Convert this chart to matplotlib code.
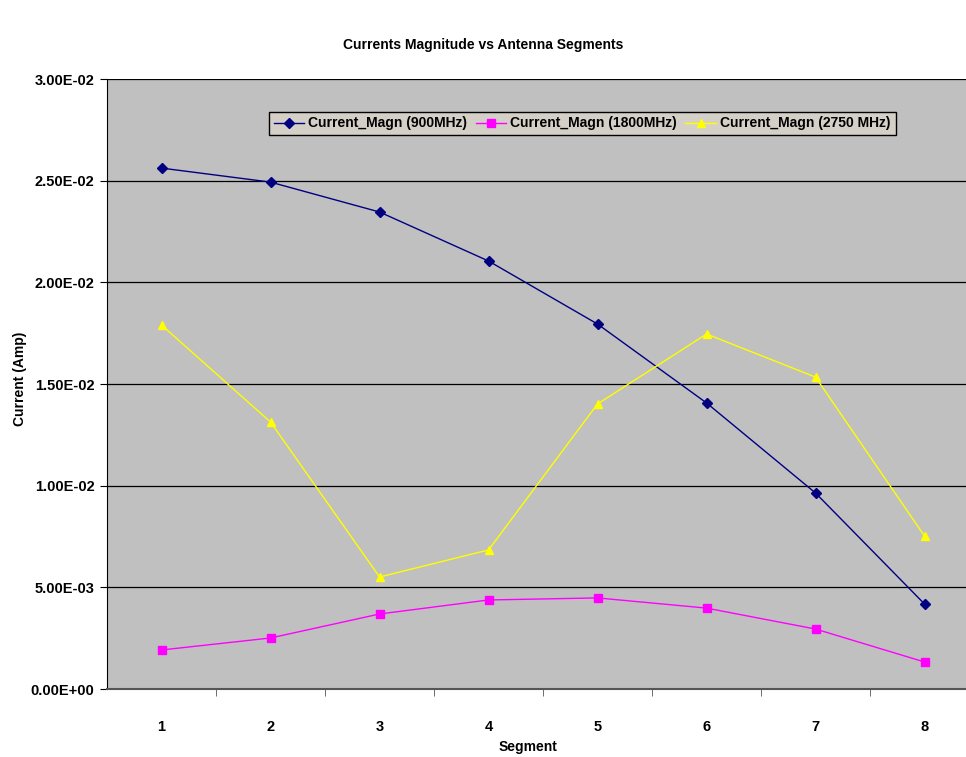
import matplotlib.pyplot as plt
from matplotlib.ticker import FixedLocator

plt.rcParams["font.family"] = ["Liberation Sans", "DejaVu Sans"]

segments = [1, 2, 3, 4, 5, 6, 7, 8]
magn_900 = [0.02562, 0.02493, 0.02346, 0.02105, 0.01795, 0.01407, 0.00964, 0.00418]
magn_1800 = [0.00192, 0.00251, 0.00369, 0.00438, 0.00448, 0.00398, 0.00295, 0.00133]
magn_2750 = [0.01790, 0.01313, 0.00551, 0.00684, 0.01402, 0.01746, 0.01534, 0.00752]
y_ticks = [0.0, 0.005, 0.01, 0.015, 0.02, 0.025, 0.03]

fig = plt.figure(figsize=(9.66, 7.57), dpi=100)
ax = fig.add_axes([0.1108, 0.0898, 0.9027, 0.8058])
ax.set_facecolor("#c0c0c0")

ax.plot(segments, magn_900, color="#000080", lw=1, marker="D", ms=5,
        label="Current_Magn (900MHz)")
ax.plot(segments, magn_1800, color="#ff00ff", lw=1, marker="s", ms=6,
        label="Current_Magn (1800MHz)")
ax.plot(segments, magn_2750, color="#ffff00", lw=1, marker="^", ms=6,
        label="Current_Magn (2750 MHz)")

ax.set_xlim(0.5, 8.5)
ax.set_ylim(0, 0.03)
ax.set_yticks(y_ticks)
ax.set_yticklabels(["%.2E" % v for v in y_ticks], fontsize=10.5, fontweight="bold")
ax.yaxis.grid(True, color="black", lw=0.9)
ax.set_axisbelow(True)

ax.set_xticks(segments)
ax.set_xticklabels([str(s) for s in segments], fontsize=10.5, fontweight="bold")
ax.tick_params(axis="x", which="major", length=0, pad=22)
ax.xaxis.set_minor_locator(FixedLocator([s + 0.5 for s in segments]))
ax.tick_params(axis="x", which="minor", length=5, direction="out", color="#555555")
ax.tick_params(axis="y", length=5, direction="out", pad=4)

for side in ["top", "right"]:
    ax.spines[side].set_visible(False)
ax.spines["left"].set_color("black")
ax.spines["bottom"].set_color("#555555")
ax.spines["bottom"].set_linewidth(1.5)

# axis titles placed by hand, the plot area fills nearly the whole figure
fig.text(0.547, 0.0132, "Segment", ha="center", va="center",
         fontsize=10, fontweight="bold")
fig.text(0.0207, 0.5, "Current (Amp)", ha="center", va="center",
         rotation=90, fontsize=10, fontweight="bold")
fig.text(0.5, 0.94, "Currents Magnitude vs Antenna Segments", ha="center",
         va="center", fontsize=10, fontweight="bold")

leg = ax.legend(loc="upper left", bbox_to_anchor=(0.1775, 0.958), ncol=3,
                fancybox=False, framealpha=1, edgecolor="black",
                prop={"size": 10, "weight": "bold"}, handlelength=2.2,
                handletextpad=0.3, columnspacing=0.6, borderpad=0.35)
leg.get_frame().set_facecolor("#d4d0c8")
leg.get_frame().set_linewidth(1)

fig.savefig("out.png", dpi=100)
